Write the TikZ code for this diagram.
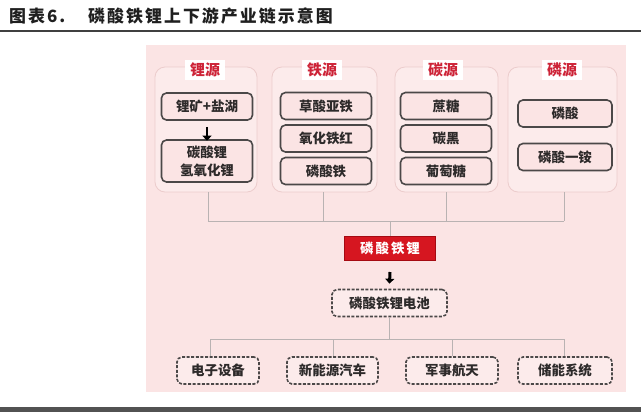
\documentclass[tikz,border=0pt]{standalone}
\usepackage{fontspec}
\setmainfont{Noto Sans CJK SC}
\usetikzlibrary{arrows.meta}
\definecolor{bgpink}{RGB}{251,228,228}
\definecolor{grpfill}{RGB}{252,235,235}
\definecolor{grpdraw}{RGB}{236,204,204}
\definecolor{boxdraw}{RGB}{75,72,72}
\definecolor{txt}{RGB}{45,42,42}
\definecolor{labred}{RGB}{205,35,55}
\definecolor{redfill}{RGB}{214,22,32}
\definecolor{reddraw}{RGB}{165,10,18}
\definecolor{conn}{RGB}{185,178,178}
\tikzset{
  grp/.style={draw=grpdraw, fill=grpfill, line width=0.8bp, rounded corners=10bp, minimum height=125bp},
  grplab/.style={fill=white, text=labred, font=\fontsize{15}{18}\selectfont\bfseries, minimum width=40bp, minimum height=20bp, inner sep=0pt},
  ibox/.style={draw=boxdraw, fill=bgpink, line width=1.6bp, rounded corners=5bp, minimum width=91bp, minimum height=27bp, text=txt, inner sep=0pt, font=\fontsize{13.5}{18}\selectfont\bfseries, align=center},
  dbox/.style={draw=boxdraw, fill=grpfill, line width=1.6bp, dash pattern=on 3bp off 1.6bp, rounded corners=5bp, minimum height=27bp, text=txt, inner sep=0pt, font=\fontsize{13.5}{18}\selectfont\bfseries},
  redbox/.style={draw=reddraw, fill=redfill, line width=1bp, text=white, minimum width=91bp, minimum height=24bp, inner sep=0pt, font=\fontsize{13.5}{18}\selectfont\bfseries\addfontfeature{LetterSpace=15}},
  connector/.style={draw=conn, line width=0.8bp},
  bigarrow/.style={draw=black, line width=3bp, -{Triangle[length=5bp,width=9bp]}},
  titlefont/.style={font=\fontsize{17}{20}\selectfont\bfseries\addfontfeature{LetterSpace=12}, text=black!88, inner sep=0pt}
}
\begin{document}
\begin{tikzpicture}[x=1bp,y=-1bp]
\useasboundingbox (0,0) rectangle (641,412);
\fill[white] (0,0) rectangle (641,412);
% title
\node[titlefont, anchor=west] (tnum) at (9,16) {图表6.};
\node[titlefont, anchor=west] (ttext) at (88,16) {磷酸铁锂上下游产业链示意图};
\coordinate (tl0) at (0,30.5);
\coordinate (tl1) at (641,30.5);
\draw[line width=2bp, black!75] (tl0) -- (tl1);
% background panel
\fill[bgpink] (146,45) rectangle (626,392);
% bottom rule
\coordinate (bl0) at (0,409.5);
\coordinate (bl1) at (641,409.5);
\draw[line width=5bp, black!68] (bl0) -- (bl1);
% groups
\node[grp, minimum width=102bp] (g1) at (206,129.5) {};
\node[grp, minimum width=105bp] (g2) at (324.5,129.5) {};
\node[grp, minimum width=103bp] (g3) at (446.5,129.5) {};
\node[grp, minimum width=109bp] (g4) at (562.5,129.5) {};
\node[grplab] (l1) at (205,70) {锂源};
\node[grplab] (l2) at (322,70) {铁源};
\node[grplab] (l3) at (443,70) {碳源};
\node[grplab] (l4) at (562,70) {磷源};
% group 1
\node[ibox] (a1) at (207,106.5) {锂矿+盐湖};
\node[ibox, minimum height=42bp] (a2) at (207,161) {碳酸锂\\氢氧化锂};
\draw[bigarrow, line width=2.4bp] ([yshift=-6bp]a1.south) -- ([yshift=-1.5bp]a2.north);
% group 2
\node[ibox] (b1) at (326,106) {草酸亚铁};
\node[ibox] (b2) at (326,138.5) {氧化铁红};
\node[ibox] (b3) at (326,171) {磷酸铁};
% group 3
\node[ibox] (c1) at (446,106) {蔗糖};
\node[ibox] (c2) at (446,138.5) {碳黑};
\node[ibox] (c3) at (446,171) {葡萄糖};
% group 4
\node[ibox, minimum width=94bp] (d1) at (565,113.5) {磷酸};
\node[ibox, minimum width=94bp] (d2) at (565,157) {磷酸一铵};
% upper connectors
\coordinate (u1) at (208,221);
\coordinate (u2) at (323,221);
\coordinate (u3) at (446,221);
\coordinate (u4) at (564,221);
\draw[connector] (g1.south -| u1) -- (u1);
\draw[connector] (g2.south -| u2) -- (u2);
\draw[connector] (g3.south -| u3) -- (u3);
\draw[connector] (g4.south -| u4) -- (u4);
\draw[connector] (u1) -- (u4);
% core product
\node[redbox] (lfp) at (390,248.5) {磷酸铁锂};
\draw[connector] (lfp.north) -- (lfp.north |- u1);
\node[dbox, minimum width=115bp] (bat) at (389.5,303) {磷酸铁锂电池};
\draw[bigarrow] ([yshift=-11bp]lfp.south) -- ([yshift=5bp]bat.north);
% lower connectors
\coordinate (v0) at (389,339);
\coordinate (v1) at (210,339);
\coordinate (v2) at (333,339);
\coordinate (v3) at (452,339);
\coordinate (v4) at (564,339);
\draw[connector] (bat.south) -- (bat.south |- v0);
\draw[connector] (v1) -- (v4);
\node[dbox, minimum width=82bp] (e1) at (218,370.5) {电子设备};
\node[dbox, minimum width=91bp] (e2) at (332.5,370.5) {新能源汽车};
\node[dbox, minimum width=92bp] (e3) at (452,370.5) {军事航天};
\node[dbox, minimum width=94bp] (e4) at (565,370.5) {储能系统};
\draw[connector] (v1) -- (v1 |- e1.north);
\draw[connector] (v2) -- (v2 |- e2.north);
\draw[connector] (v3) -- (v3 |- e3.north);
\draw[connector] (v4) -- (v4 |- e4.north);
\end{tikzpicture}
\end{document}
